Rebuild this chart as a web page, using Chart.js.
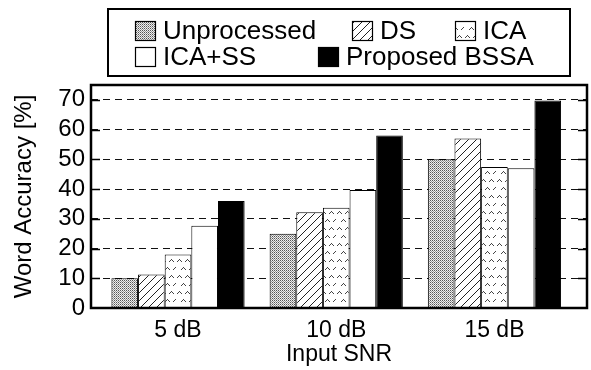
<!DOCTYPE html>
<html>
<head>
<meta charset="utf-8">
<script src="https://cdn.jsdelivr.net/npm/chart.js@4.4.1/dist/chart.umd.min.js"></script>
<style>
  html, body { margin: 0; padding: 0; background: #fff; }
  #wrap { width: 591px; height: 370px; }
</style>
</head>
<body>
<div id="wrap"><canvas id="snr-chart" width="591" height="370"></canvas></div>
<script>
// data
const categories = ['5 dB', '10 dB', '15 dB'];
const seriesNames = ['Unprocessed', 'DS', 'ICA', 'ICA+SS', 'Proposed BSSA'];
const unprocessed = [10, 25, 50];
const ds = [11.3, 32.2, 57];
const ica = [18, 33.7, 47.4];
const icaSs = [27.7, 39.7, 47];
const bssa = [36, 58, 69.8];
const yTicks = [0, 10, 20, 30, 40, 50, 60, 70];

const FONT = "'Liberation Sans', Arial, Helvetica, sans-serif";

// little fill patterns like the gnuplot ones
function makePattern(kind) {
    const c = document.createElement('canvas');
    const g = c.getContext('2d');
    if (kind === 'dots') {
        c.width = 2; c.height = 2;
        g.fillStyle = '#eeeeee';
        g.fillRect(0, 0, 2, 2);
        g.fillStyle = '#555';
        g.fillRect(0, 0, 1, 1);
        g.fillStyle = '#999';
        g.fillRect(1, 1, 1, 1);
    } else if (kind === 'hatch') {
        c.width = 8; c.height = 8;
        g.fillStyle = '#fff';
        g.fillRect(0, 0, 8, 8);
        g.strokeStyle = '#222';
        g.lineWidth = 1;
        g.beginPath();
        g.moveTo(-1, 9); g.lineTo(9, -1);
        g.moveTo(-1, 1); g.lineTo(1, -1);
        g.moveTo(7, 9); g.lineTo(9, 7);
        g.stroke();
    } else if (kind === 'carets') {
        c.width = 16; c.height = 16;
        g.fillStyle = '#fff';
        g.fillRect(0, 0, 16, 16);
        g.fillStyle = '#444';
        [[3, 3], [11, 3], [7, 11], [15, 11]].forEach(function (p) {
            g.fillRect(p[0], p[1], 1, 1);
            g.fillRect(p[0] - 1, p[1] + 1, 1, 1);
            g.fillRect(p[0] + 1, p[1] + 1, 1, 1);
            g.fillRect(p[0] - 2, p[1] + 2, 1, 1);
            g.fillRect(p[0] + 2, p[1] + 2, 1, 1);
        });
    }
    return g.createPattern(c, 'repeat');
}

const fills = [makePattern('dots'), makePattern('hatch'), makePattern('carets'), '#ffffff', '#000000'];
const values = [unprocessed, ds, ica, icaSs, bssa];

const datasets = seriesNames.map(function (name, i) {
    return {
        label: name,
        data: values[i].map(function (v, j) { return { x: j, y: v }; }),
        backgroundColor: fills[i],
        borderColor: '#000',
        borderWidth: 1,
        borderSkipped: 'start',
        categoryPercentage: 0.842,
        barPercentage: 1.0
    };
});

// legend drawn by hand in a boxed two-row layout
const legendSlots = [[135, 31], [352, 31], [455, 31], [135, 57], [318, 57]];
const boxedLegend = {
    id: 'boxedLegend',
    afterDraw: function (chart) {
        const ctx = chart.ctx;
        ctx.save();
        ctx.lineWidth = 2;
        ctx.strokeStyle = '#000';
        ctx.strokeRect(108, 9, 462, 67);
        ctx.font = '26px ' + FONT;
        ctx.textBaseline = 'middle';
        chart.data.datasets.forEach(function (d, i) {
            const s = legendSlots[i];
            ctx.fillStyle = d.backgroundColor;
            ctx.fillRect(s[0], s[1] - 10, 21, 20);
            ctx.lineWidth = 1.2;
            ctx.strokeStyle = '#000';
            ctx.strokeRect(s[0] + 0.5, s[1] - 9.5, 20, 19);
            ctx.fillStyle = '#000';
            ctx.fillText(d.label, s[0] + 28, s[1] + 1);
        });
        ctx.restore();
    }
};

// frame plus the short inward ticks on both sides
const frame = {
    id: 'frame',
    afterDatasetsDraw: function (chart) {
        const ctx = chart.ctx;
        const a = chart.chartArea;
        const y = chart.scales.y;
        ctx.save();
        ctx.strokeStyle = '#000';
        ctx.lineWidth = 1.5;
        ctx.beginPath();
        yTicks.forEach(function (t) {
            if (t === 0) return;
            const py = Math.round(y.getPixelForValue(t)) + 0.5;
            ctx.moveTo(a.left, py); ctx.lineTo(a.left + 9, py);
            ctx.moveTo(a.right - 9, py); ctx.lineTo(a.right, py);
        });
        ctx.stroke();
        ctx.lineWidth = 2.5;
        ctx.strokeRect(a.left, a.top, a.right - a.left, a.bottom - a.top);
        ctx.restore();
    }
};

new Chart(document.getElementById('snr-chart'), {
    type: 'bar',
    data: { datasets: datasets },
    plugins: [boxedLegend, frame],
    options: {
        responsive: false,
        animation: false,
        layout: { padding: { top: 85, right: 4, bottom: 2, left: 0 } },
        plugins: {
            legend: { display: false },
            tooltip: { enabled: false }
        },
        scales: {
            x: {
                type: 'linear',
                offset: false,
                min: -0.55,
                max: 2.585,
                afterBuildTicks: function (s) {
                    s.ticks = categories.map(function (c, i) { return { value: i }; });
                },
                afterFit: function (s) { s.height = 60; },
                grid: { display: false, drawTicks: false },
                border: { display: false },
                ticks: {
                    color: '#000',
                    padding: 9,
                    font: { family: FONT, size: 23 },
                    callback: function (v) { return categories[v]; }
                },
                title: {
                    display: true,
                    text: 'Input SNR',
                    color: '#000',
                    font: { family: FONT, size: 23 },
                    padding: { top: 0, bottom: 0 }
                }
            },
            y: {
                min: 0,
                max: 75,
                afterBuildTicks: function (s) {
                    s.ticks = yTicks.map(function (v) { return { value: v }; });
                },
                afterFit: function (s) { s.width = 91; },
                grid: {
                    drawTicks: false,
                    color: function (c) { return c.tick && c.tick.value === 0 ? 'rgba(0,0,0,0)' : '#111'; },
                    lineWidth: 1
                },
                border: { display: false, dash: [7, 5] },
                ticks: {
                    color: '#000',
                    padding: 6,
                    font: { family: FONT, size: 24 }
                },
                title: {
                    display: true,
                    text: 'Word Accuracy [%]',
                    color: '#000',
                    font: { family: FONT, size: 24 },
                    padding: { top: 10, bottom: 0 }
                }
            }
        }
    }
});
</script>
</body>
</html>
